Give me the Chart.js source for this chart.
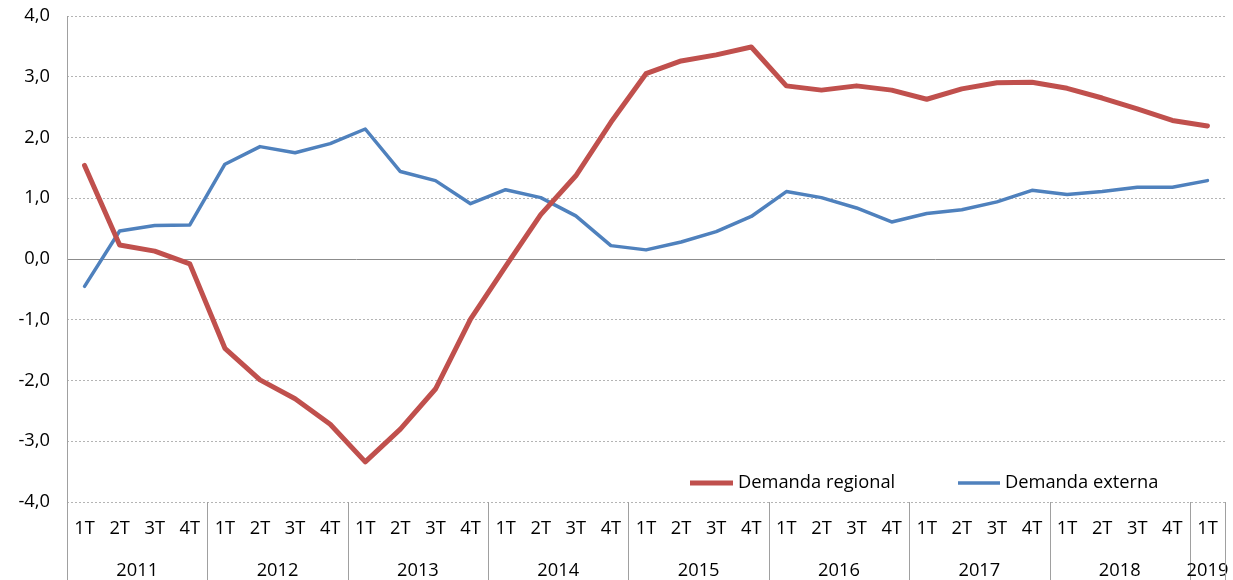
<!DOCTYPE html>
<html>
<head>
<meta charset="utf-8">
<script src="https://cdn.jsdelivr.net/npm/chart.js@4/dist/chart.umd.min.js"></script>
<style>
html,body{margin:0;padding:0;background:#fff;}
#wrap{width:1233px;height:580px;position:relative;}
</style>
</head>
<body>
<div id="wrap"><canvas id="c" width="1233" height="580"></canvas></div>
<script>
const years = ['2011','2012','2013','2014','2015','2016','2017','2018','2019'];
const quarters = ['1T','2T','3T','4T'];
const categories = [];
years.forEach(y => quarters.forEach(q => { if (!(y === '2019' && q !== '1T')) categories.push(q + ' ' + y); }));

const demandaRegional = [1.54,0.23,0.13,-0.08, -1.47,-1.99,-2.30,-2.72, -3.34,-2.80,-2.14,-0.99,
  -0.12,0.73,1.37,2.25, 3.05,3.26,3.36,3.49, 2.85,2.78,2.85,2.78, 2.63,2.80,2.90,2.91,
  2.81,2.65,2.47,2.28, 2.19];
const demandaExterna = [-0.45,0.46,0.55,0.56, 1.56,1.85,1.75,1.90, 2.14,1.44,1.29,0.91,
  1.14,1.01,0.71,0.22, 0.15,0.28,0.45,0.70, 1.11,1.01,0.84,0.61, 0.75,0.81,0.94,1.13,
  1.06,1.11,1.18,1.18, 1.29];
const yTicks = [-4,-3,-2,-1,0,1,2,3,4];

const FONT = '"Open Sans", Lato, sans-serif';
const FS = 18.3;
const RED = '#C0504D', BLUE = '#4F81BD', AXIS = '#A0A0A0';
const fmt = v => v.toFixed(1).replace('.', ',');

const customDraw = {
  id: 'customDraw',
  afterDraw(chart) {
    const ctx = chart.ctx;
    const xs = chart.scales.x;
    const ys = chart.scales.y;
    const ca = chart.chartArea;
    const H = chart.height;
    ctx.save();
    ctx.strokeStyle = AXIS; ctx.lineWidth = 1; ctx.setLineDash([]);
    ctx.beginPath(); ctx.moveTo(Math.round(ca.left)+0.5, ca.top); ctx.lineTo(Math.round(ca.left)+0.5, H); ctx.stroke();
    ctx.fillStyle = '#000';
    ctx.font = FS + 'px ' + FONT;
    ctx.textAlign = 'right'; ctx.textBaseline = 'middle';
    yTicks.forEach(v => ctx.fillText(fmt(v), ca.left - 17, ys.getPixelForValue(v)));
    ctx.textAlign = 'center';
    const step = xs.getPixelForValue(1) - xs.getPixelForValue(0);
    categories.forEach((c, i) => {
      const x = xs.getPixelForValue(i);
      ctx.fillText(c.split(' ')[0], x, ca.bottom + 27);
    });
    years.forEach(y => {
      const idx = [];
      categories.forEach((c, k) => { if (c.split(' ')[1] === y) idx.push(k); });
      const x0 = xs.getPixelForValue(idx[0]) - step / 2;
      const x1 = xs.getPixelForValue(idx[idx.length - 1]) + step / 2;
      ctx.fillStyle = '#000';
      ctx.fillText(y, (x0 + x1) / 2, ca.bottom + 69);
      ctx.strokeStyle = AXIS;
      ctx.beginPath(); ctx.moveTo(Math.round(x1)+0.5, ca.bottom); ctx.lineTo(Math.round(x1)+0.5, H); ctx.stroke();
    });
    const ly = ca.bottom - 19;
    ctx.lineCap = 'butt';
    ctx.strokeStyle = RED; ctx.lineWidth = 5;
    ctx.beginPath(); ctx.moveTo(690, ly); ctx.lineTo(733, ly); ctx.stroke();
    ctx.strokeStyle = BLUE; ctx.lineWidth = 3.5;
    ctx.beginPath(); ctx.moveTo(958, ly); ctx.lineTo(1000, ly); ctx.stroke();
    ctx.fillStyle = '#000'; ctx.textAlign = 'left';
    ctx.fillText('Demanda regional', 738, ly);
    ctx.fillText('Demanda externa', 1005, ly);
    ctx.restore();
  }
};

new Chart(document.getElementById('c'), {
  type: 'line',
  data: {
    labels: categories,
    datasets: [
      { label: 'Demanda regional', data: demandaRegional, borderColor: RED, backgroundColor: RED,
        borderWidth: 5, pointRadius: 0, tension: 0, borderJoinStyle: 'round', borderCapStyle: 'round' },
      { label: 'Demanda externa', data: demandaExterna, borderColor: BLUE, backgroundColor: BLUE,
        borderWidth: 3.5, pointRadius: 0, tension: 0, borderJoinStyle: 'round', borderCapStyle: 'round' }
    ]
  },
  options: {
    responsive: false,
    animation: false,
    devicePixelRatio: 1,
    layout: { padding: { left: 0, right: 8, top: 16, bottom: 78 } },
    plugins: { legend: { display: false }, tooltip: { enabled: false } },
    scales: {
      x: { display: false, offset: true },
      y: {
        min: -4, max: 4,
        afterFit(s) { s.width = 67; },
        afterBuildTicks(s) { s.ticks = yTicks.map(v => ({ value: v })); },
        ticks: { display: false },
        grid: {
          drawTicks: false,
          color: c => (c.tick && c.tick.value === 0) ? '#8C8C8C' : '#B4B4B4',
          lineWidth: 1
        },
        border: { display: false, dash: c => (c.tick && c.tick.value === 0) ? [] : [2, 2] }
      }
    }
  },
  plugins: [customDraw]
});
</script>
</body>
</html>
